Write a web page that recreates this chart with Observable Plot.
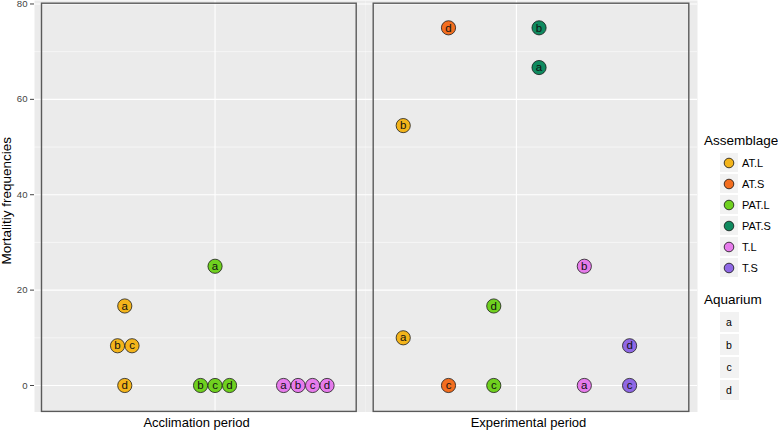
<!DOCTYPE html>
<html>
<head>
<meta charset="utf-8">
<script src="https://cdn.jsdelivr.net/npm/d3@7"></script>
<script src="https://cdn.jsdelivr.net/npm/@observablehq/plot@0.6"></script>
<style>
  html, body { margin: 0; padding: 0; background: #fff; }
  #chart { position: relative; width: 778px; height: 430px; display: flex; font-family: "Liberation Sans", Arial, Helvetica, sans-serif; }
  #chart svg { display: block; }
  .lg-title { position: absolute; left: 704px; font-size: 13.5px; color: #000; line-height: 16px; transform: translateY(-50%); white-space: nowrap; }
  .lg-key { position: absolute; left: 719px; width: 20px; background: #F2F2F2; box-sizing: border-box; border: 1px solid #fff; display: flex; align-items: center; justify-content: center; font-size: 10.5px; color: #000; }
  .lg-label { position: absolute; left: 742px; font-size: 11px; color: #000; line-height: 12px; transform: translateY(-50%); white-space: nowrap; }
</style>
</head>
<body>
<div id="chart"></div>
<script>
// ---------- data ----------
const periods = ["Acclimation period", "Experimental period"];
const assemblages = ["AT.L", "AT.S", "PAT.L", "PAT.S", "T.L", "T.S"];
const assemblageColors = ["#F3B41B", "#F36E1F", "#6FD01F", "#0F8A5F", "#E67BEB", "#8F68E5"];
const aquaria = ["a", "b", "c", "d"];
const yTicks = [0, 20, 40, 60, 80];
const yMinorTicks = [10, 30, 50, 70];
const yTitle = "Mortalitiy frequencies";

const obsPeriod = [
  "Acclimation period", "Acclimation period", "Acclimation period", "Acclimation period",
  "Acclimation period", "Acclimation period", "Acclimation period", "Acclimation period",
  "Acclimation period", "Acclimation period", "Acclimation period", "Acclimation period",
  "Experimental period", "Experimental period", "Experimental period", "Experimental period",
  "Experimental period", "Experimental period", "Experimental period", "Experimental period",
  "Experimental period", "Experimental period", "Experimental period", "Experimental period"
];
const obsAssemblage = [
  "AT.L", "AT.L", "AT.L", "AT.L",
  "PAT.L", "PAT.L", "PAT.L", "PAT.L",
  "T.L", "T.L", "T.L", "T.L",
  "AT.L", "AT.L", "AT.S", "AT.S",
  "PAT.L", "PAT.L", "PAT.S", "PAT.S",
  "T.L", "T.L", "T.S", "T.S"
];
const obsAquarium = [
  "a", "b", "c", "d",
  "a", "b", "c", "d",
  "a", "b", "c", "d",
  "a", "b", "c", "d",
  "c", "d", "a", "b",
  "a", "b", "c", "d"
];
const obsMortality = [
  16.67, 8.33, 8.33, 0,
  25, 0, 0, 0,
  0, 0, 0, 0,
  10, 54.5, 0, 75,
  0, 16.67, 66.67, 75,
  0, 25, 0, 8.33
];

// ---------- layout helpers ----------
const rows = obsPeriod.map((p, i) => ({
  period: p, assemblage: obsAssemblage[i], aquarium: obsAquarium[i], mortality: obsMortality[i]
}));

const FONT = "Liberation Sans, Arial, Helvetica, sans-serif";
const H = 430, MB = 18.5;
const yDomain = [-5.56, 80.73];
const dodgeWidth = 0.9;
const dotR = 7.1, dotStep = 14.5;

// dodge groups and center-stack equal values (like a centred dot plot)
function layout(period, pxPerUnit) {
  const sub = rows.filter(r => r.period === period);
  const groups = assemblages.filter(a => sub.some(r => r.assemblage === a));
  const n = groups.length;
  const stacks = d3.group(sub, r => r.assemblage, r => r.mortality);
  return sub.map(r => {
    const g = groups.indexOf(r.assemblage);
    const center = (g - (n - 1) / 2) * dodgeWidth / n;
    const stack = stacks.get(r.assemblage).get(r.mortality);
    const k = stack.length, j = stack.indexOf(r);
    return {...r, xpos: center + (j - (k - 1) / 2) * dotStep / pxPerUnit};
  });
}

function panel({period, width, marginLeft, marginRight, xDomain, insets, labelDx, withAxis}) {
  const pxPerUnit = (width - marginLeft - marginRight) / (xDomain[1] - xDomain[0]);
  const data = layout(period, pxPerUnit);
  const marks = [
    Plot.frame({fill: "#EBEBEB", stroke: null}),
    Plot.ruleY(yMinorTicks, {stroke: "#fff", strokeWidth: 0.55}),
    Plot.ruleY(yTicks, {stroke: "#fff", strokeWidth: 1.1}),
    Plot.ruleX([0], {stroke: "#fff", strokeWidth: 1.1}),
    Plot.frame({stroke: "#5A5A5A", strokeWidth: 1.4, fill: null, ...insets}),
    Plot.dot(data, {x: "xpos", y: "mortality", r: dotR, fill: "assemblage", stroke: "#111", strokeWidth: 0.75}),
    Plot.text(data, {x: "xpos", y: "mortality", text: "aquarium", fontSize: 11.5, fill: "#111"}),
    Plot.text([period], {frameAnchor: "bottom", textAnchor: "middle", lineAnchor: "top", dy: 6, dx: labelDx, fontSize: 13, fill: "#000"})
  ];
  if (withAxis) {
    marks.push(Plot.axisY(yTicks, {tickSize: 4, tickPadding: 3, fontSize: 9.6, color: "#444", label: null}));
    marks.push(Plot.text([yTitle], {frameAnchor: "left", textAnchor: "middle", rotate: -90, dx: -28, dy: -5.5, fontSize: 13.5, fill: "#000"}));
  }
  return Plot.plot({
    width, height: H,
    marginLeft, marginRight, marginTop: 0, marginBottom: MB,
    style: {fontFamily: FONT, background: "transparent", overflow: "visible"},
    x: {domain: xDomain, axis: null},
    y: {domain: yDomain, label: null, axis: withAxis ? undefined : null},
    color: {domain: assemblages, range: assemblageColors},
    marks
  });
}

const chart = document.getElementById("chart");
chart.appendChild(panel({
  period: periods[0], width: 365, marginLeft: 34, marginRight: 0, xDomain: [-0.6, 0.5],
  insets: {insetLeft: 7, insetRight: 9.3, insetTop: 2.7, insetBottom: 0.6}, labelDx: -3.5, withAxis: true
}));
chart.appendChild(panel({
  period: periods[1], width: 413, marginLeft: 0, marginRight: 81, xDomain: [-0.5, 0.6],
  insets: {insetLeft: 7.7, insetRight: 8.7, insetTop: 2.7, insetBottom: 0.6}, labelDx: -3, withAxis: false
}));

// ---------- legend (HTML) ----------
function addDiv(cls, css, html) {
  const d = document.createElement("div");
  d.className = cls;
  Object.assign(d.style, css);
  if (html !== undefined) d.innerHTML = html;
  chart.appendChild(d);
  return d;
}
const asmTop = 162.5, asmStep = 21;
addDiv("lg-title", {top: (asmTop - 21.5) + "px"}, "Assemblage");
assemblages.forEach((a, i) => {
  const cy = asmTop + i * asmStep;
  const key = addDiv("lg-key", {top: (cy - asmStep / 2) + "px", height: asmStep + "px"});
  key.innerHTML = `<svg width="12" height="12"><circle cx="6" cy="6" r="4.8" fill="${assemblageColors[i]}" stroke="#111" stroke-width="0.8"/></svg>`;
  addDiv("lg-label", {top: cy + "px"}, a);
});
const aqTop = 322, aqStep = 22.7;
addDiv("lg-title", {top: (aqTop - 22) + "px"}, "Aquarium");
aquaria.forEach((q, i) => {
  const cy = aqTop + i * aqStep;
  addDiv("lg-key", {top: (cy - aqStep / 2) + "px", height: aqStep + "px", width: "21px", left: "718.5px"}, q);
});
</script>
</body>
</html>
